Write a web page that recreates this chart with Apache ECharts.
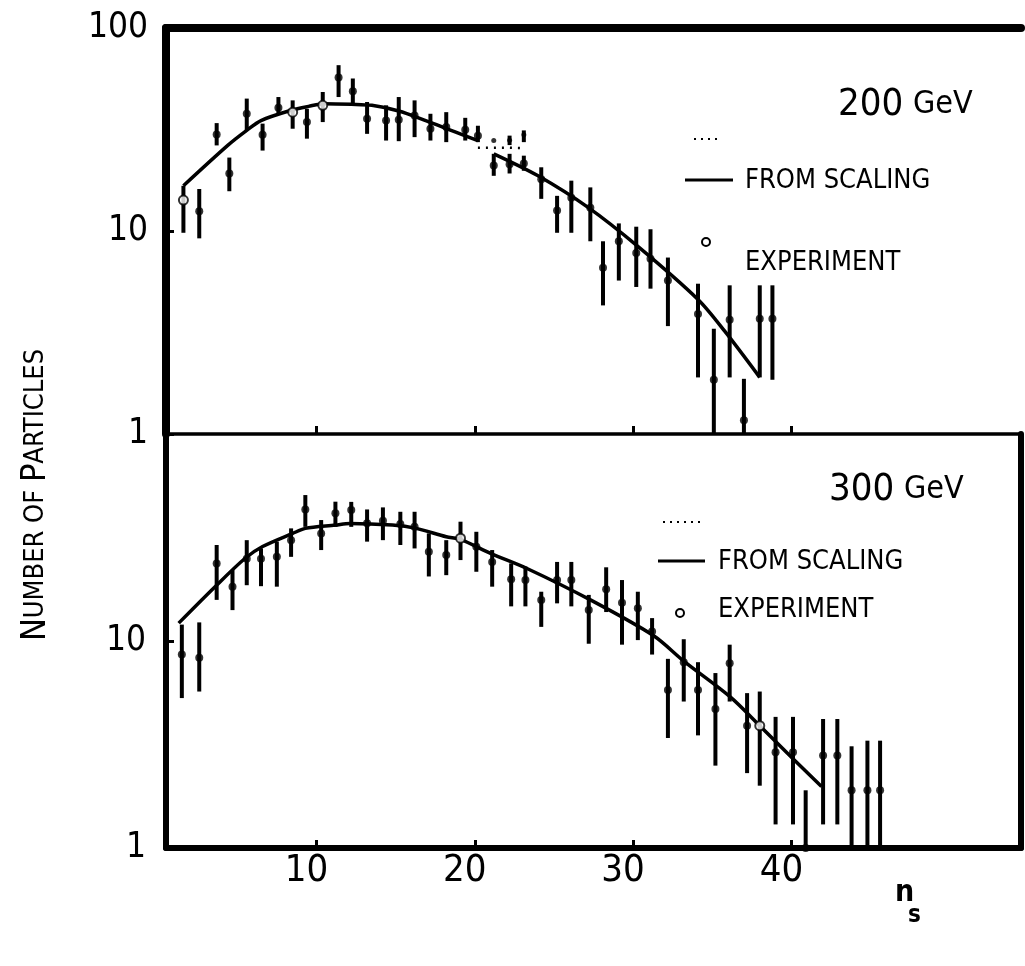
<!DOCTYPE html>
<html>
<head>
<meta charset="utf-8">
<script src="https://cdn.jsdelivr.net/npm/echarts@6/dist/echarts.min.js"></script>
<style>
html,body{margin:0;padding:0;background:#fff;}
#chart{width:1025px;height:966px;}
</style>
</head>
<body>
<div id="chart"></div>
<script>
// ---------- 200 GeV panel ----------
const topN    = [1.6, 2.6, 3.7, 4.5, 5.6, 6.6, 7.6, 8.5, 9.4, 10.4, 11.4, 12.3, 13.2, 14.4, 15.2, 16.2, 17.2, 18.2, 19.4, 20.2, 21.2, 22.2, 23.1, 24.2, 25.2, 26.1, 27.3, 28.1, 29.1, 30.2, 31.1, 32.2, 34.1, 35.1, 36.1, 37.0, 38.0, 38.8];
const topVal  = [14.2, 12.5, 29.9, 19.2, 37.8, 29.8, 40.5, 38.5, 34.4, 41.6, 57.0, 48.8, 35.7, 35.0, 35.3, 37.1, 31.9, 32.5, 31.5, 29.5, 21.0, 21.3, 21.5, 18.0, 12.6, 14.6, 13.0, 6.6, 8.9, 7.8, 7.3, 5.7, 3.9, 1.85, 3.65, 1.17, 3.7, 3.7];
const topLo   = [9.8, 9.2, 26.4, 15.7, 31.3, 24.9, 37.8, 31.9, 28.5, 34.4, 45.7, 41.6, 30.1, 27.9, 27.7, 29.0, 27.9, 27.4, 27.9, 27.4, 18.7, 19.2, 19.8, 14.4, 9.8, 9.8, 8.9, 4.3, 5.7, 5.3, 5.2, 3.4, 1.9, 1.0, 1.9, 1.0, 1.9, 1.85];
const topHi   = [16.7, 16.1, 34.0, 23.0, 44.9, 33.8, 45.7, 44.0, 40.0, 48.4, 65.6, 56.4, 43.2, 41.6, 45.7, 44.0, 37.8, 38.5, 36.1, 33.0, 24.0, 24.0, 23.5, 20.6, 14.9, 17.7, 16.4, 8.9, 10.9, 10.5, 10.2, 7.4, 5.5, 3.3, 5.4, 1.87, 5.4, 5.4];
const topOpen = [1, 0, 0, 0, 0, 0, 0, 1, 0, 1, 0, 0, 0, 0, 0, 0, 0, 0, 0, 0, 0, 0, 0, 0, 0, 0, 0, 0, 0, 0, 0, 0, 0, 0, 0, 0, 0, 0];
// small upper marks near the dotted segment
const topExtraN  = [21.2, 22.2, 23.1];
const topExtraV  = [27.9, 28.0, 29.8];
const topExtraLo = [27.9, 26.5, 27.4];
const topExtraHi = [27.9, 29.5, 31.3];
// dotted segment
const topDotN = [20.2, 21.2, 22.2, 23.2];
const topDotV = [25.7, 25.7, 25.7, 25.6];
// scaling curve (null = break)
const topCurveN = [1.6, 4.4, 5.6, 6.5, 8.4, 9.5, 10.5, 12.2, 13.5, 15.2, 16.9, 17.7, 18.8, 20.2, null, 21.2, 24.0, 27.2, 30.3, 34.1, 35.8, 38.0];
const topCurveV = [16.7, 26.4, 31.3, 35.0, 39.3, 41.1, 42.4, 42.1, 41.6, 39.0, 35.0, 33.1, 30.7, 27.9, null, 24.0, 18.7, 13.0, 8.4, 4.6, 3.2, 1.9];

// ---------- 300 GeV panel ----------
const botN    = [1.5, 2.6, 3.7, 4.7, 5.6, 6.5, 7.5, 8.4, 9.3, 10.3, 11.2, 12.2, 13.2, 14.2, 15.3, 16.2, 17.1, 18.2, 19.1, 20.1, 21.1, 22.3, 23.2, 24.2, 25.2, 26.1, 27.2, 28.3, 29.3, 30.3, 31.2, 32.2, 33.2, 34.1, 35.2, 36.1, 37.2, 38.0, 39.0, 40.1, 40.9, 42.0, 42.9, 43.8, 44.8, 45.6];
const botVal  = [8.6, 8.3, 23.7, 18.3, 25.0, 25.0, 25.5, 30.7, 43.2, 33.1, 41.4, 42.9, 37.1, 38.1, 36.7, 35.6, 27.0, 26.0, 31.4, 28.5, 24.1, 19.9, 19.7, 15.8, 19.7, 19.7, 14.1, 17.8, 15.3, 14.4, 11.1, 5.8, 7.9, 5.8, 4.7, 7.8, 3.9, 3.9, 2.9, 2.9, 1.0, 2.8, 2.8, 1.9, 1.9, 1.9];
const botLo   = [5.3, 5.7, 15.8, 14.1, 18.6, 18.4, 18.3, 25.5, 35.6, 27.5, 35.6, 35.6, 30.2, 30.7, 29.1, 28.0, 20.5, 20.8, 24.6, 21.6, 18.3, 14.7, 14.7, 11.7, 15.2, 14.7, 9.7, 13.8, 9.6, 10.1, 8.6, 3.4, 5.1, 3.5, 2.5, 5.1, 2.3, 2.0, 1.3, 1.3, 1.0, 1.3, 1.3, 1.0, 1.0, 1.0];
const botHi   = [12.0, 12.3, 29.1, 22.0, 30.7, 28.0, 30.2, 35.0, 50.7, 38.4, 47.1, 47.0, 43.2, 44.2, 42.1, 42.1, 33.1, 30.7, 37.7, 33.7, 27.5, 23.7, 22.9, 17.3, 24.1, 24.1, 16.7, 22.7, 19.7, 17.3, 12.9, 8.2, 10.2, 7.9, 7.0, 9.6, 5.6, 5.7, 4.3, 4.3, 1.9, 4.2, 4.2, 3.1, 3.3, 3.3];
const botOpen = [0, 0, 0, 0, 0, 0, 0, 0, 0, 0, 0, 0, 0, 0, 0, 0, 0, 0, 1, 0, 0, 0, 0, 0, 0, 0, 0, 0, 0, 0, 0, 0, 0, 0, 0, 0, 0, 1, 0, 0, 0, 0, 0, 0, 0, 0];
const botCurveN = [1.3, 3.6, 5.5, 6.6, 8.5, 9.3, 11.2, 12.1, 14.8, 16.3, 18.2, 19.1, 21.0, 23.3, 27.3, 31.3, 33.2, 36.1, 38.0, 40.1, 41.9];
const botCurveV = [12.2, 18.3, 25.1, 28.6, 33.1, 35.0, 36.3, 37.0, 36.3, 35.0, 31.9, 31.0, 26.5, 22.4, 15.8, 10.6, 8.0, 5.4, 3.9, 2.7, 1.98];

// ---------- axis ticks / labels ----------
const xTicks = [10, 20, 30, 40];
const yTickLabels = {1: '1', 10: '10', 100: '100'};

const FONT = "'Liberation Sans Narrow','DejaVu Sans Condensed','Liberation Sans',sans-serif";

function zip4(n, v, lo, hi){ return n.map((x,i)=>[x, v[i], lo[i], hi[i]]); }
function pick(n, v, flags, want){ const out=[]; n.forEach((x,i)=>{ if(flags[i]===want) out.push([x, v[i]]); }); return out; }
function curve(n, v){ return n.map((x,i)=> x===null ? [null,null] : [x, v[i]]); }

function errRender(params, api){
  const x = api.value(0);
  const p1 = api.coord([x, api.value(3)]);
  const p2 = api.coord([x, api.value(2)]);
  return {type:'line', shape:{x1:p1[0], y1:p1[1], x2:p2[0], y2:p2[1]},
          style:{stroke:'#000', lineWidth:4}};
}

function panelSeries(xi, yi, N, V, LO, HI, OPEN, CN, CV){
  return [
    {type:'custom', xAxisIndex:xi, yAxisIndex:yi, renderItem:errRender, clip:true,
     encode:{x:0, y:1}, data: zip4(N, V, LO, HI), z:3},
    {type:'line', xAxisIndex:xi, yAxisIndex:yi, data: curve(CN, CV), smooth:0.3,
     showSymbol:false, connectNulls:false, lineStyle:{color:'#000', width:3.5}, z:2},
    {type:'scatter', xAxisIndex:xi, yAxisIndex:yi, data: pick(N, V, OPEN, 0),
     symbol:'circle', symbolSize:8, itemStyle:{color:'#000'}, z:5},
    {type:'scatter', xAxisIndex:xi, yAxisIndex:yi, data: pick(N, V, OPEN, 1),
     symbol:'circle', symbolSize:9, itemStyle:{color:'#fff', borderColor:'#000', borderWidth:2}, z:6}
  ];
}

const series = []
  .concat(panelSeries(0, 0, topN, topVal, topLo, topHi, topOpen, topCurveN, topCurveV))
  .concat(panelSeries(2, 2, botN, botVal, botLo, botHi, botOpen, botCurveN, botCurveV));
series.push({type:'custom', xAxisIndex:0, yAxisIndex:0, renderItem:errRender, clip:true,
  encode:{x:0, y:1}, data: zip4(topExtraN, topExtraV, topExtraLo, topExtraHi), z:3});
series.push({type:'scatter', xAxisIndex:0, yAxisIndex:0, data: topExtraN.map((x,i)=>[x, topExtraV[i]]),
  symbol:'circle', symbolSize:5, itemStyle:{color:'#000'}, z:5});
series.push({type:'line', xAxisIndex:0, yAxisIndex:0, data: topDotN.map((x,i)=>[x, topDotV[i]]),
  showSymbol:false, lineStyle:{color:'#000', width:2.5, type:[2,6]}, z:2});

const XMIN = 0.5, XMAX = 54.5;
const tickStyle = {show:true, inside:true, length:8, lineStyle:{color:'#000', width:3}};

const option = {
  animation:false,
  backgroundColor:'#fff',
  grid:[
    {left:166, right:4, top:28, height:406, show:false},
    {left:166, right:4, top:434, height:414, show:false}
  ],
  xAxis:[
    {gridIndex:0, type:'value', position:'bottom', min:XMIN, max:XMAX,
     axisLine:{show:true, onZero:false, lineStyle:{color:'#000', width:3.5}},
     axisTick:Object.assign({customValues:xTicks}, tickStyle),
     axisLabel:{show:false, customValues:xTicks}, splitLine:{show:false}},
    {gridIndex:0, type:'value', position:'top', min:XMIN, max:XMAX,
     axisLine:{show:true, onZero:false, lineStyle:{color:'#000', width:8}},
     axisTick:{show:false}, axisLabel:{show:false}, splitLine:{show:false}},
    {gridIndex:1, type:'value', position:'bottom', min:XMIN, max:XMAX,
     axisLine:{show:true, onZero:false, lineStyle:{color:'#000', width:6}},
     axisTick:Object.assign({customValues:xTicks}, tickStyle),
     axisLabel:{show:true, customValues:xTicks, color:'#000', fontFamily:FONT, fontSize:38,
                margin:4, padding:[0,20,0,0]},
     splitLine:{show:false}}
  ],
  yAxis:[
    {gridIndex:0, type:'log', logBase:10, min:1, max:100, position:'left',
     axisLine:{show:true, onZero:false, lineStyle:{color:'#000', width:8}},
     axisTick:tickStyle, minorTick:{show:false},
     axisLabel:{color:'#000', fontFamily:FONT, fontSize:35, margin:18,
                formatter:v=>yTickLabels[Math.round(v)] || ''},
     splitLine:{show:false}},
    {gridIndex:0, type:'value', position:'right', min:0, max:1,
     axisLine:{show:false}, axisTick:{show:false}, axisLabel:{show:false}, splitLine:{show:false}},
    {gridIndex:1, type:'log', logBase:10, min:1, max:100, position:'left',
     axisLine:{show:true, onZero:false, lineStyle:{color:'#000', width:6}},
     axisTick:tickStyle, minorTick:{show:false},
     axisLabel:{color:'#000', fontFamily:FONT, fontSize:35, margin:20,
                formatter:v=> (Math.round(v)===100 ? '' : (yTickLabels[Math.round(v)] || ''))},
     splitLine:{show:false}},
    {gridIndex:1, type:'value', position:'right', min:0, max:1,
     axisLine:{show:true, onZero:false, lineStyle:{color:'#000', width:6}},
     axisTick:{show:false}, axisLabel:{show:false}, splitLine:{show:false}}
  ],
  graphic:[
    // y-axis title (small caps)
    {type:'text', x:36, y:495, rotation:Math.PI/2,
     style:{text:'{b|N}{s|UMBER OF }{b|P}{s|ARTICLES}', align:'center', verticalAlign:'middle',
            rich:{b:{fontSize:34, fontFamily:FONT, fill:'#000'}, s:{fontSize:27, fontFamily:FONT, fill:'#000'}}}},
    // x-axis title
    {type:'text', x:895, y:893, style:{text:'n', fontSize:30, fontFamily:FONT, fontWeight:'bold', fill:'#000', verticalAlign:'middle'}},
    {type:'text', x:908, y:916, style:{text:'s', fontSize:24, fontFamily:FONT, fontWeight:'bold', fill:'#000', verticalAlign:'middle'}},
    // 200 GeV legend
    {type:'text', x:838, y:105, style:{text:'200', fontSize:38, fontFamily:FONT, fill:'#000', verticalAlign:'middle'}},
    {type:'text', x:913, y:105, style:{text:'GeV', fontSize:32, fontFamily:FONT, fill:'#000', verticalAlign:'middle'}},
    {type:'line', shape:{x1:694, y1:139, x2:721, y2:139}, style:{stroke:'#000', lineWidth:2, lineDash:[2,5]}},
    {type:'line', shape:{x1:685, y1:180, x2:733, y2:180}, style:{stroke:'#000', lineWidth:3}},
    {type:'text', x:745, y:181, style:{text:'FROM SCALING', fontSize:27, fontFamily:FONT, fill:'#000', verticalAlign:'middle'}},
    {type:'circle', shape:{cx:706, cy:242, r:4}, style:{fill:'#fff', stroke:'#000', lineWidth:2}},
    {type:'text', x:745, y:263, style:{text:'EXPERIMENT', fontSize:27, fontFamily:FONT, fill:'#000', verticalAlign:'middle'}},
    // 300 GeV legend
    {type:'text', x:829, y:490, style:{text:'300', fontSize:38, fontFamily:FONT, fill:'#000', verticalAlign:'middle'}},
    {type:'text', x:904, y:490, style:{text:'GeV', fontSize:32, fontFamily:FONT, fill:'#000', verticalAlign:'middle'}},
    {type:'line', shape:{x1:663, y1:522, x2:704, y2:522}, style:{stroke:'#000', lineWidth:2, lineDash:[2,5]}},
    {type:'line', shape:{x1:658, y1:561, x2:705, y2:561}, style:{stroke:'#000', lineWidth:3}},
    {type:'text', x:718, y:562, style:{text:'FROM SCALING', fontSize:27, fontFamily:FONT, fill:'#000', verticalAlign:'middle'}},
    {type:'circle', shape:{cx:680, cy:613, r:4}, style:{fill:'#fff', stroke:'#000', lineWidth:2}},
    {type:'text', x:718, y:610, style:{text:'EXPERIMENT', fontSize:27, fontFamily:FONT, fill:'#000', verticalAlign:'middle'}}
  ],
  series: series
};

const chart = echarts.init(document.getElementById('chart'), null, {renderer:'canvas'});
chart.setOption(option);
</script>
</body>
</html>
